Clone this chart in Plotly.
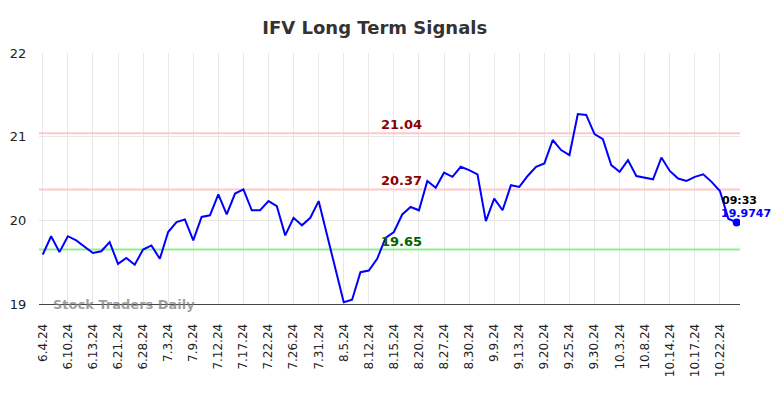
import plotly.graph_objects as go

# ---- data ----
values = [
    19.59, 19.81, 19.62, 19.81, 19.76, 19.69, 19.61, 19.63, 19.74, 19.48,
    19.55, 19.47, 19.65, 19.70, 19.54, 19.86, 19.98, 20.01, 19.76, 20.04,
    20.06, 20.31, 20.07, 20.32, 20.37, 20.12, 20.12, 20.23, 20.17, 19.82,
    20.03, 19.94, 20.03, 20.23, 19.82, 19.41, 19.02, 19.05, 19.38, 19.40,
    19.54, 19.79, 19.86, 20.07, 20.16, 20.12, 20.47, 20.39, 20.57, 20.52,
    20.64, 20.60, 20.55, 19.99, 20.26, 20.12, 20.42, 20.40, 20.53, 20.64,
    20.68, 20.96, 20.84, 20.78, 21.27, 21.26, 21.03, 20.97, 20.66, 20.58,
    20.72, 20.53, 20.51, 20.49, 20.75, 20.59, 20.50, 20.47, 20.52, 20.55,
    20.46, 20.35, 20.02, 19.9747,
]
tick_labels = [
    "6.4.24", "6.10.24", "6.13.24", "6.21.24", "6.28.24", "7.3.24", "7.9.24",
    "7.12.24", "7.17.24", "7.22.24", "7.26.24", "7.31.24", "8.5.24", "8.12.24",
    "8.15.24", "8.20.24", "8.27.24", "8.30.24", "9.9.24", "9.13.24", "9.20.24",
    "9.25.24", "9.30.24", "10.3.24", "10.8.24", "10.14.24", "10.17.24", "10.22.24",
]
tick_step = 3
signal_levels = [21.04, 20.37, 19.65]
signal_colors = ["#ffc8c8", "#ffc8c8", "#90ee90"]
signal_text_colors = ["#8b0000", "#8b0000", "#006400"]
last_time = "09:33"

x = list(range(len(values)))
tick_vals = [i * tick_step for i in range(len(tick_labels))]

fig = go.Figure()

for lvl, col in zip(signal_levels, signal_colors):
    fig.add_trace(go.Scatter(
        x=[-0.5, len(values) - 0.6], y=[lvl, lvl], mode="lines",
        line=dict(color=col, width=2), hoverinfo="skip", showlegend=False))

fig.add_trace(go.Scatter(
    x=x, y=values, mode="lines",
    line=dict(color="#0000ff", width=2), showlegend=False))

fig.add_trace(go.Scatter(
    x=[x[-1]], y=[values[-1]], mode="markers",
    marker=dict(color="#0000ff", size=8), showlegend=False))

for lvl, tc in zip(signal_levels, signal_text_colors):
    fig.add_annotation(
        x=42.85, y=lvl, text=f"{lvl:.2f}", showarrow=False,
        xanchor="center", yanchor="bottom", yshift=-1,
        font=dict(family="DejaVu Sans", size=13, color=tc, weight="bold"))

fig.add_annotation(
    x=x[-1] - 2.0, y=values[-1], text=last_time, showarrow=False,
    xanchor="left", yanchor="middle", yshift=22,
    font=dict(family="DejaVu Sans", size=11, color="#000000", weight="bold"))
fig.add_annotation(
    x=x[-1] - 2.15, y=values[-1], text=f"{values[-1]:.4f}", showarrow=False,
    xanchor="left", yanchor="middle", yshift=9,
    font=dict(family="DejaVu Sans", size=11, color="#0000ff", weight="bold"))

fig.add_annotation(
    x=1.0, y=19.0, text="Stock Traders Daily", showarrow=False,
    xanchor="left", yanchor="middle",
    font=dict(family="DejaVu Sans", size=13, color="rgba(128,128,128,0.75)", weight="bold"))

fig.update_layout(
    width=784, height=398,
    margin=dict(l=39, r=44, t=53, b=94),
    paper_bgcolor="white", plot_bgcolor="white",
    title=dict(text="IFV Long Term Signals", x=0.478, xanchor="center", y=0.93, yanchor="middle",
               font=dict(family="DejaVu Sans", size=18, color="#333333", weight="bold")),
    font=dict(family="DejaVu Sans", size=12, color="#222222"),
)
fig.update_xaxes(
    range=[-0.45, 83.4], tickmode="array", tickvals=tick_vals, ticktext=tick_labels,
    tickangle=-90, showgrid=True, gridcolor="#e8e8e8", gridwidth=1,
    ticks="outside", ticklen=14, tickcolor="rgba(0,0,0,0)",
    showline=True, linecolor="#444444", linewidth=1, zeroline=False,
    automargin=False, tickfont=dict(size=12))
fig.update_yaxes(
    range=[19, 22], tickvals=[19, 20, 21, 22], showgrid=True, gridcolor="#e8e8e8",
    ticks="outside", ticklen=9, tickcolor="rgba(0,0,0,0)", zeroline=False,
    automargin=False, tickfont=dict(size=13))

fig.write_html("out.html", post_script="document.body.style.margin='0';",
               config={"displayModeBar": False})
